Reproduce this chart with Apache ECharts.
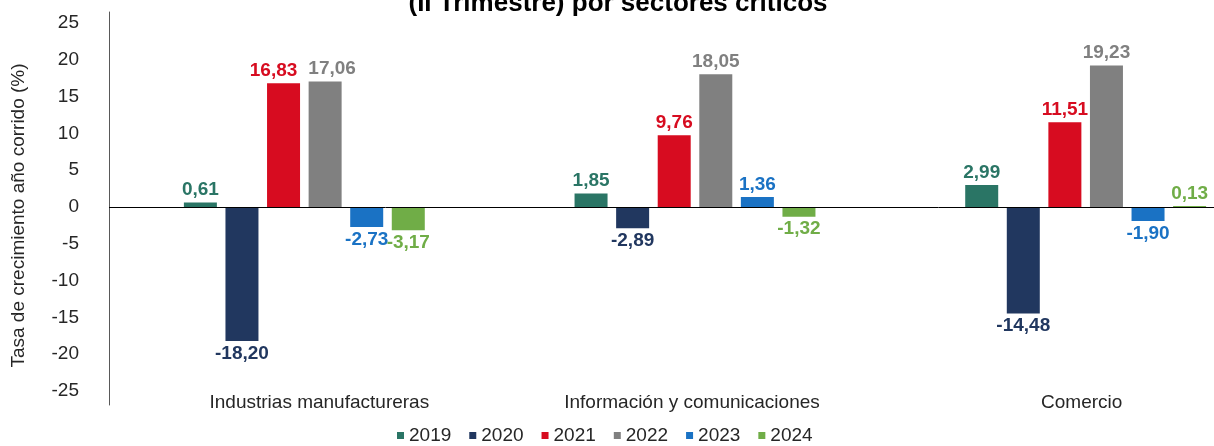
<!DOCTYPE html>
<html>
<head>
<meta charset="utf-8">
<script src="https://cdn.jsdelivr.net/npm/echarts@6/dist/echarts.min.js"></script>
<style>
  html, body { margin: 0; padding: 0; background: #fff; }
  #chart { width: 1214px; height: 446px; }
</style>
</head>
<body>
<div id="chart"></div>
<script>
// sectores
var categories = ['Industrias manufactureras', 'Información y comunicaciones', 'Comercio']
var years = ['2019', '2020', '2021', '2022', '2023', '2024']
var v2019 = [0.61, 1.85, 2.99]
var v2020 = [-18.20, -2.89, -14.48]
var v2021 = [16.83, 9.76, 11.51]
var v2022 = [17.06, 18.05, 19.23]
var v2023 = [-2.73, 1.36, -1.90]
var v2024 = [-3.17, -1.32, 0.13]
var yTicks = [-25, -20, -15, -10, -5, 0, 5, 10, 15, 20, 25]

var values = [v2019, v2020, v2021, v2022, v2023, v2024]
var colors = ['#2a7565', '#21375f', '#d70c20', '#808080', '#1a72c4', '#70ad47']
var font = '"Liberation Sans", Arial, sans-serif'
// etiquetas que Excel separo para que no se pisen (serie-categoria: px)
var labelShift = { '2-0': -10, '3-0': 7 }

var myChart = echarts.init(document.getElementById('chart'))

var series = years.map(function (y, i) {
  var s = {
    name: y,
    type: 'bar',
    barWidth: 33,
    barGap: '26%',
    itemStyle: { color: colors[i] },
    label: {
      show: true,
      color: colors[i],
      fontFamily: font,
      fontWeight: 'bold',
      fontSize: 19,
      distance: 3,
      formatter: function (p) {
        return p.value.toFixed(2).replace('.', ',')
      }
    },
    data: values[i].map(function (v, j) {
      return {
        value: v,
        label: {
          position: v >= 0 ? 'top' : 'bottom',
          offset: [labelShift[i + '-' + j] || 0, 0]
        }
      }
    })
  }
  if (i === 0) {
    // linea del cero
    s.markLine = {
      silent: true,
      symbol: 'none',
      animation: false,
      label: { show: false },
      lineStyle: { color: '#000', width: 1, type: 'solid' },
      data: [{ yAxis: 0 }]
    }
  }
  return s
})

var option = {
  animation: false,
  title: {
    text: '(II Trimestre) por sectores críticos',
    left: 613,
    textAlign: 'center',
    top: -14,
    textStyle: { fontFamily: font, fontWeight: 'bold', fontSize: 26, color: '#000' }
  },
  legend: {
    data: years,
    left: 397,
    top: 426,
    padding: 0,
    itemWidth: 7,
    itemHeight: 7,
    itemGap: 18,
    icon: 'rect',
    textStyle: { fontFamily: font, fontSize: 19, color: '#262626' }
  },
  grid: {
    left: 109,
    top: 12,
    bottom: 41,
    width: 1172,
    containLabel: false,
    outerBoundsMode: 'none'
  },
  xAxis: {
    type: 'category',
    data: categories,
    axisLine: { show: false, onZero: false },
    axisTick: { show: false },
    axisLabel: {
      interval: 0,
      hideOverlap: false,
      margin: -12,
      fontFamily: font,
      fontSize: 19,
      color: '#262626',
      formatter: function (v, i) {
        return ['{a|', '{b|', '{c|'][i] + v + '}'
      },
      rich: {
        a: { fontFamily: font, fontSize: 19, color: '#262626', padding: [0, 0, 0, 30] },
        b: { fontFamily: font, fontSize: 19, color: '#262626', padding: [0, 6, 0, 0] },
        c: { fontFamily: font, fontSize: 19, color: '#262626', padding: [0, 8, 0, 0] }
      }
    }
  },
  yAxis: {
    type: 'value',
    min: -26.9,
    max: 26.5,
    name: 'Tasa de crecimiento año corrido (%)',
    nameLocation: 'middle',
    nameGap: 81,
    nameTextStyle: { fontFamily: font, fontSize: 19, color: '#262626', padding: [0, 14, 0, 0] },
    axisLine: { show: true, lineStyle: { color: '#595959', width: 1 } },
    axisTick: { show: false },
    splitLine: { show: false },
    axisLabel: {
      customValues: yTicks,
      margin: 30,
      fontFamily: font,
      fontSize: 19,
      color: '#262626'
    }
  },
  series: series
}

myChart.setOption(option, true)
</script>
</body>
</html>
